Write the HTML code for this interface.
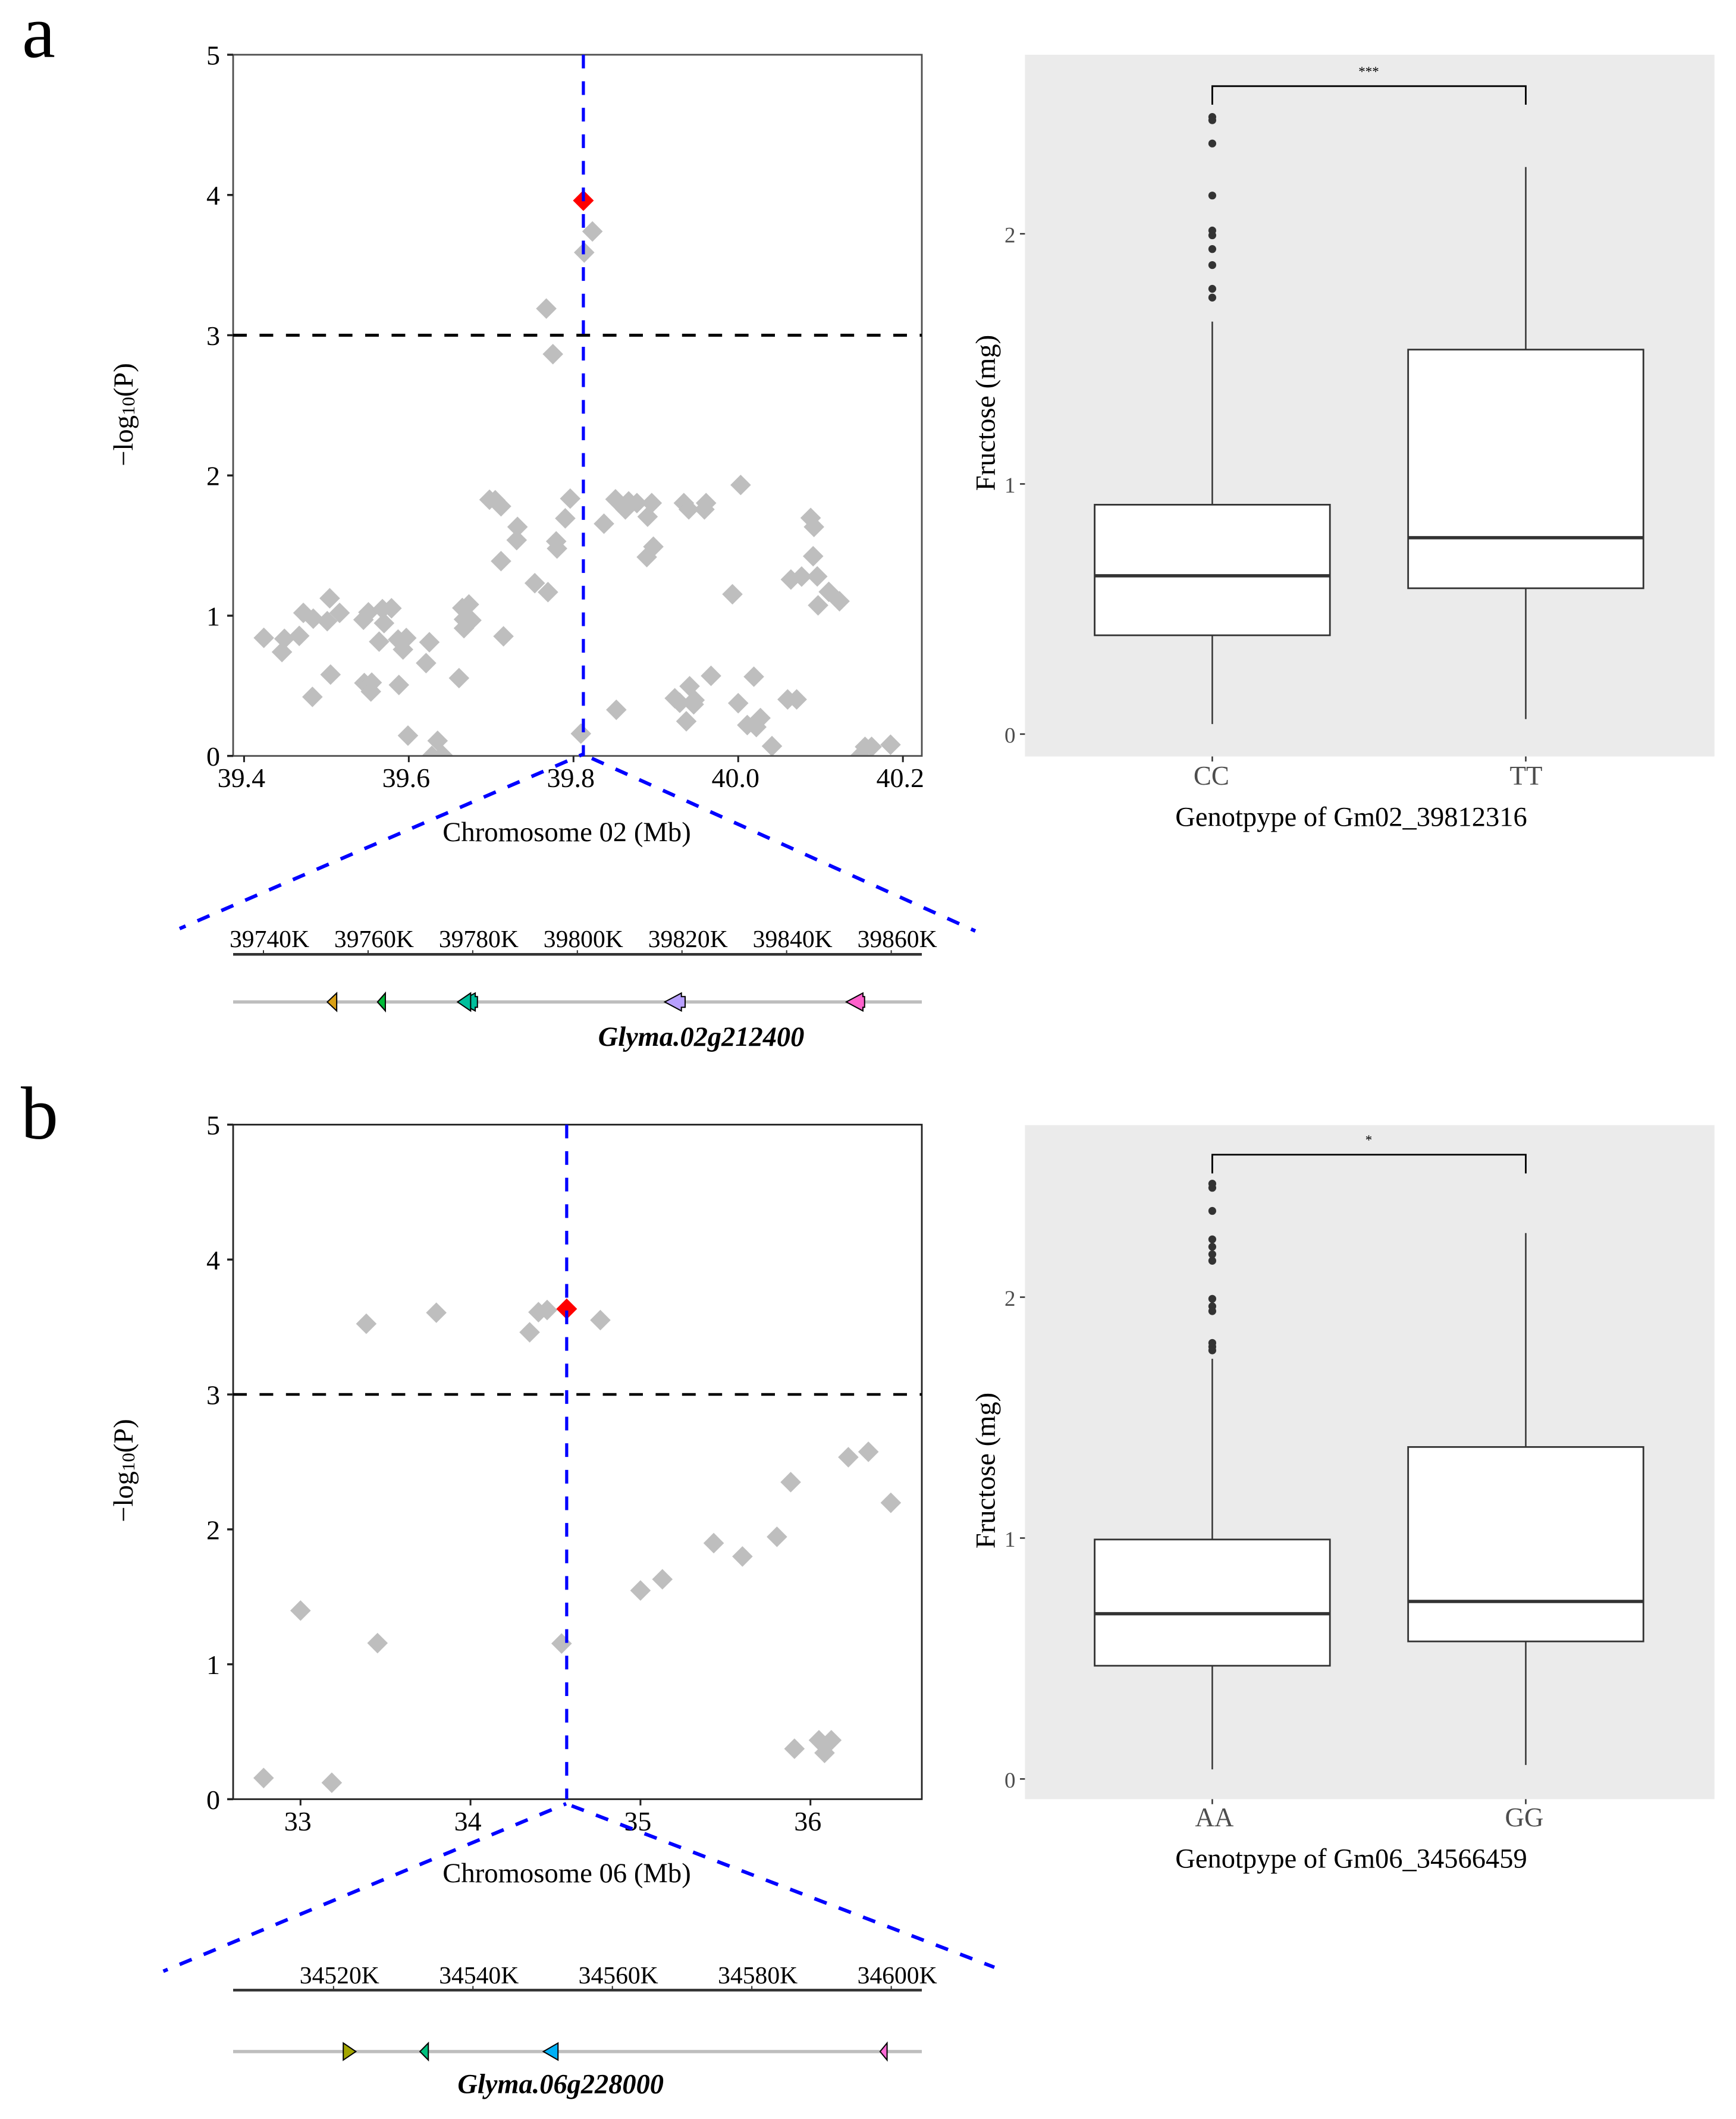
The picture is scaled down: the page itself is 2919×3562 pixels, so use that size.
<!DOCTYPE html>
<html lang="en">
<head>
<meta charset="utf-8">
<title>GWAS regional association and genotype boxplots</title>
<style>
html,body{margin:0;padding:0;background:#fff;}
svg{display:block;font-family:"Liberation Serif","Times New Roman",serif;}
</style>
</head>
<body>
<svg xmlns="http://www.w3.org/2000/svg" width="2919" height="3562" viewBox="0 0 2919 3562">
  <rect x="0" y="0" width="2919" height="3562" fill="#fff"/>
  <defs>
    <clipPath id="clip-a"><rect x="392" y="92" width="1158" height="1178.7"/></clipPath>
    <clipPath id="clip-b"><rect x="392" y="1890.5" width="1158" height="1134"/></clipPath>
  </defs>

  <text x="37" y="96" font-size="126" fill="#000">a</text>
  <text x="35" y="1914" font-size="126" fill="#000">b</text>

  <g id="manhattan-a"></g>
  <g id="manhattan-b"></g>
  <g id="genes-a"></g>
  <g id="genes-b"></g>
  <g id="box-a"></g>
  <g id="box-b"></g>

  <!-- zoom connectors, drawn from the outer end toward the apex -->
  <line x1="302" y1="1561" x2="980" y2="1268" stroke="#0000ff" stroke-width="6" stroke-dasharray="22 21.7" stroke-dashoffset="11"/>
  <line x1="1640" y1="1565" x2="980" y2="1268" stroke="#0000ff" stroke-width="6" stroke-dasharray="22 21.7" stroke-dashoffset="14"/>
  <line x1="274.6" y1="3313.6" x2="952" y2="3032" stroke="#0000ff" stroke-width="6" stroke-dasharray="22 21.7" stroke-dashoffset="14"/>
  <line x1="1672" y1="3307" x2="952" y2="3032" stroke="#0000ff" stroke-width="6" stroke-dasharray="22 21.7" stroke-dashoffset="4"/>

  <!-- axis titles -->
  <text x="953" y="1414" font-size="46.7" text-anchor="middle">Chromosome 02 (Mb)</text>
  <text x="953" y="3164" font-size="46.7" text-anchor="middle">Chromosome 06 (Mb)</text>
  <text transform="translate(223 697) rotate(-90)" font-size="46.5" text-anchor="middle">−log<tspan font-size="31" dy="3">10</tspan><tspan dy="-3">(P)</tspan></text>
  <text transform="translate(223 2472) rotate(-90)" font-size="46.5" text-anchor="middle">−log<tspan font-size="31" dy="3">10</tspan><tspan dy="-3">(P)</tspan></text>
  <text x="1005.7" y="1758" font-size="46.4" font-weight="bold" font-style="italic">Glyma.02g212400</text>
  <text x="769.4" y="3518.6" font-size="46.4" font-weight="bold" font-style="italic">Glyma.06g228000</text>
  <text transform="translate(1672.7 694) rotate(-90)" font-size="46.5" text-anchor="middle">Fructose (mg)</text>
  <text transform="translate(1672.7 2472) rotate(-90)" font-size="46.5" text-anchor="middle">Fructose (mg)</text>
  <text x="2272" y="1388.5" font-size="46.5" text-anchor="middle">Genotpype of Gm02_39812316</text>
  <text x="2272" y="3139.5" font-size="46.5" text-anchor="middle">Genotpype of Gm06_34566459</text>
</svg>

<script>
/* ---------- Panel a, Manhattan data ---------- */
const chr02PositionsMb = [39.424,39.449,39.467,39.446,39.472,39.484,39.501,39.516,39.504,39.551,39.545,39.568,39.579,39.570,39.564,39.587,39.597,39.593,39.625,39.621,39.665,39.673,39.667,39.676,39.667,39.715,39.661,39.505,39.483,39.546,39.555,39.554,39.588,39.599,39.635,39.628,39.641,39.698,39.705,39.712,39.732,39.731,39.712,39.753,39.769,39.779,39.780,39.790,39.796,39.809,39.823,39.813,39.767,39.775,39.851,39.863,39.867,39.877,39.895,39.890,39.837,39.897,39.889,39.934,39.940,39.961,39.959,40.003,40.088,40.092,40.091,40.064,40.077,40.096,40.110,40.123,40.097,39.993,39.967,39.941,39.923,39.929,39.947,39.946,39.937,40.019,40.000,40.060,40.071,40.027,40.011,40.022,40.041,39.852,40.154,40.162,40.185,40.148];
const chr02LogP = [0.842,0.835,0.856,0.741,1.020,0.979,0.961,1.020,1.124,1.024,0.971,1.047,1.053,0.947,0.815,0.830,0.841,0.759,0.811,0.662,1.055,1.080,0.974,0.967,0.911,0.853,0.555,0.580,0.421,0.520,0.523,0.459,0.506,0.145,0.108,0.0,0.005,1.827,1.823,1.780,1.633,1.539,1.389,1.232,1.168,1.530,1.479,1.694,1.835,0.159,3.74,3.59,3.19,2.865,1.830,1.758,1.815,1.803,1.803,1.706,1.656,1.492,1.418,1.803,1.758,1.803,1.758,1.932,1.697,1.633,1.424,1.258,1.279,1.280,1.170,1.103,1.074,1.153,0.571,0.497,0.411,0.379,0.398,0.368,0.247,0.565,0.376,0.403,0.403,0.270,0.220,0.206,0.070,0.329,0.065,0.065,0.080,0.0];
const chr02LeadPosition = 39.812;
const chr02LeadLogP = 3.96;
const chr02XTicks = [39.4,39.6,39.8,40.0,40.2];
const chr02XTickLabels = ["39.4","39.6","39.8","40.0","40.2"];

/* ---------- Panel b, Manhattan data ---------- */
const chr06PositionsMb = [32.783,33.0,33.184,33.387,33.453,33.799,34.348,34.400,34.451,34.536,34.764,35.0,35.129,35.431,35.600,35.803,35.884,35.906,36.050,36.123,36.083,36.223,36.341,36.473];
const chr06LogP = [0.157,1.398,0.122,3.524,1.157,3.606,3.461,3.610,3.626,1.154,3.551,1.547,1.630,1.898,1.799,1.945,2.350,0.374,0.437,0.437,0.343,2.535,2.575,2.197];
const chr06LeadPosition = 34.566;
const chr06LeadLogP = 3.634;
const chr06XTicks = [33,34,35,36];
const chr06XTickLabels = ["33","34","35","36"];

const logPTicks = [0,1,2,3,4,5];
const logPTickLabels = ["0","1","2","3","4","5"];
const logPThreshold = 3;

/* ---------- Gene tracks ---------- */
const chr02KbTicks = [39740,39760,39780,39800,39820,39840,39860];
const chr02KbTickLabels = ["39740K","39760K","39780K","39800K","39820K","39840K","39860K"];
const chr02GeneTipKb = [39752.2,39761.8,39777.3,39777.1,39816.7,39851.4];
const chr02GeneBackKb = [39754.0,39763.3,39780.9,39779.6,39820.6,39854.9];
const chr02GeneColors = ["#daa015","#00ba38","#00bf9c","#00bf9c","#b79fff","#ff61cc"];

const chr06KbTicks = [34520,34540,34560,34580,34600];
const chr06KbTickLabels = ["34520K","34540K","34560K","34580K","34600K"];
const chr06GeneTipKb = [34523.2,34532.4,34550.1,34598.4];
const chr06GeneBackKb = [34521.4,34533.6,34552.2,34599.4];
const chr06GeneColors = ["#a3a500","#00bf7d","#00b0f6","#ff6ad5"];

/* ---------- Boxplots ---------- */
const gm02Genotypes = ["CC","TT"];
const gm02Q1 = [0.395,0.583];
const gm02Median = [0.633,0.785];
const gm02Q3 = [0.917,1.537];
const gm02WhiskerLow = [0.04,0.06];
const gm02WhiskerHigh = [1.649,2.267];
const gm02OutliersCC = [2.467,2.454,2.361,2.153,2.013,1.994,1.939,1.875,1.780,1.745];
const gm02Significance = "***";

const gm06Genotypes = ["AA","GG"];
const gm06Q1 = [0.470,0.571];
const gm06Median = [0.686,0.737];
const gm06Q3 = [0.994,1.378];
const gm06WhiskerLow = [0.04,0.058];
const gm06WhiskerHigh = [1.744,2.266];
const gm06OutliersAA = [2.471,2.454,2.358,2.240,2.209,2.178,2.151,1.993,1.962,1.942,1.810,1.794,1.779];
const gm06Significance = "*";

const fructoseTicks = [0,1,2];
const fructoseTickLabels = ["0","1","2"];

/* ---------- Helpers ---------- */
const NS = "http://www.w3.org/2000/svg";
function mk(parent, tag, attrs, txt) {
  const el = document.createElementNS(NS, tag);
  for (const k in attrs) el.setAttribute(k, attrs[k]);
  if (txt !== undefined) el.textContent = txt;
  parent.appendChild(el);
  return el;
}
function linear(d0, r0, d1, r1) {
  return function (v) { return r0 + (v - d0) * (r1 - r0) / (d1 - d0); };
}
function diamond(cx, cy, r) {
  return [cx, cy - r, cx + r, cy, cx, cy + r, cx - r, cy].join(",");
}

function drawManhattan(g, o) {
  const x = o.xScale, y = o.yScale;
  const clip = mk(g, "g", {"clip-path": "url(#" + o.clip + ")"});
  
  
  o.positions.forEach(function (p, i) {
    const pt = mk(clip, "polygon", {points: diamond(x(p), y(o.logP[i]), 17.3), fill: "#bebebe"});
    
    
  });
  const lead = mk(g, "polygon", {points: diamond(x(o.leadPos), y(o.leadLogP), 17.5), fill: "#ff0000"});
  
  

  const frame = mk(g, "rect", {x: o.left, y: o.top, width: o.right - o.left, height: o.bottom - o.top, fill: "none", stroke: o.frame, "stroke-width": 2.8});
  
  

  const thr = mk(g, "line", {x1: o.left, x2: o.right, y1: y(logPThreshold), y2: y(logPThreshold), stroke: "#000", "stroke-width": o.thrWidth, "stroke-dasharray": "23 21.4"});
  
  

  const v = mk(g, "line", {x1: x(o.leadPos), x2: x(o.leadPos), y1: o.top, y2: o.bottom, stroke: "#0000ff", "stroke-width": 5.2, "stroke-dasharray": "23 21.64"});
  
  

  logPTicks.forEach(function (t, i) {
    const tick = mk(g, "line", {x1: o.left - 10, x2: o.left, y1: y(t), y2: y(t), stroke: "#222", "stroke-width": 3.5});
    
    
    const lab = mk(g, "text", {x: o.left - 22, y: y(t) + 16.5, "font-size": 46, "text-anchor": "end"}, logPTickLabels[i]);
    
    
  });
  o.xTicks.forEach(function (t, i) {
    const tick = mk(g, "line", {x1: x(t), x2: x(t), y1: o.bottom, y2: o.bottom + 10.5, stroke: "#222", "stroke-width": 3});
    
    
    const lab = mk(g, "text", {x: x(t) - 4.5, y: o.bottom + 52.5, "font-size": 46, "text-anchor": "middle"}, o.xLabels[i]);
    
    
  });
}

function drawGenes(g, o) {
  const x = o.xScale;
  const axis = mk(g, "line", {x1: 392, x2: 1550, y1: o.axisY, y2: o.axisY, stroke: "#333", "stroke-width": 4.5});
  
  
  o.ticks.forEach(function (t, i) {
    const tick = mk(g, "line", {x1: x(t), x2: x(t), y1: o.axisY - 7, y2: o.axisY, stroke: "#333", "stroke-width": 2});
    
    
    const lab = mk(g, "text", {x: x(t) + 10, y: o.labelY, "font-size": 41.6, "text-anchor": "middle"}, o.labels[i]);
    
    
  });
  const track = mk(g, "line", {x1: 392, x2: 1550, y1: o.trackY, y2: o.trackY, stroke: "#bebebe", "stroke-width": 5.5});
  
  
  o.tips.forEach(function (tipKb, i) {
    const tip = x(tipKb), back = x(o.backs[i]);
    const dir = back > tip ? 1 : -1;
    const len = Math.abs(back - tip), head = 28, H = o.halfH, h = 9;
    let pts;
    if (len <= head + 1) {
      pts = [tip, o.trackY, back, o.trackY - H, back, o.trackY + H];
    } else {
      const s = tip + dir * head;
      pts = [tip, o.trackY, s, o.trackY - H, s, o.trackY - h, back, o.trackY - h, back, o.trackY + h, s, o.trackY + h, s, o.trackY + H];
    }
    const arrow = mk(g, "polygon", {points: pts.join(","), fill: o.colors[i], stroke: "#000", "stroke-width": 2, "stroke-linejoin": "miter"});
    
    
  });
}

function drawBox(g, o) {
  const y = o.yScale;
  const panel = mk(g, "rect", {x: 1723.4, y: o.top, width: 1159.4, height: o.bottom - o.top, fill: "#ebebeb"});
  
  

  fructoseTicks.forEach(function (t, i) {
    const tick = mk(g, "line", {x1: 1715, x2: 1723.4, y1: y(t), y2: y(t), stroke: "#333", "stroke-width": 2.5});
    
    
    const lab = mk(g, "text", {x: 1707.5, y: y(t) + 14.5, "font-size": 37, fill: "#4d4d4d", "text-anchor": "end"}, fructoseTickLabels[i]);
    
    
  });

  o.centers.forEach(function (cx, i) {
    const whisker = mk(g, "line", {x1: cx, x2: cx, y1: y(o.hi[i]), y2: y(o.lo[i]), stroke: "#333", "stroke-width": 2.5});
    
    
    const box = mk(g, "rect", {x: cx - 197.8, y: y(o.q3[i]), width: 395.6, height: y(o.q1[i]) - y(o.q3[i]), fill: "#fff", stroke: "#333", "stroke-width": 2.8});
    
    
    const med = mk(g, "line", {x1: cx - 197.8, x2: cx + 197.8, y1: y(o.med[i]), y2: y(o.med[i]), stroke: "#333", "stroke-width": 5.5});
    
    
    const tick = mk(g, "line", {x1: cx, x2: cx, y1: o.bottom, y2: o.bottom + 8.5, stroke: "#333", "stroke-width": 2.5});
    
    
    const lab = mk(g, "text", {x: cx + o.labelDx[i], y: o.labelY, "font-size": 45, fill: "#4d4d4d", "text-anchor": "middle"}, o.cats[i]);
    
    
  });

  o.outliers.forEach(function (v) {
    const c = mk(g, "circle", {cx: o.centers[0], cy: y(v), r: 6.6, fill: "#333"});
    
    
  });

  const br = mk(g, "polyline", {points: [o.centers[0], o.brDown, o.centers[0], o.brY, o.centers[1], o.brY, o.centers[1], o.brDown].join(","), fill: "none", stroke: "#000", "stroke-width": 2.8});
  
  
  const star = mk(g, "text", {x: 2301.5, y: o.starY, "font-size": 23, "text-anchor": "middle"}, o.sig);
  
  
}

/* ---------- Render ---------- */
drawManhattan(document.getElementById("manhattan-a"), {
  xScale: linear(39.4, 410.4, 40.2, 1518.2),
  yScale: linear(0, 1270.7, 5, 92),
  left: 392, right: 1550, top: 92, bottom: 1270.7,
  clip: "clip-a", frame: "#4d4d4d", thrWidth: 5,
  positions: chr02PositionsMb, logP: chr02LogP,
  leadPos: chr02LeadPosition, leadLogP: chr02LeadLogP,
  xTicks: chr02XTicks, xLabels: chr02XTickLabels
});
drawManhattan(document.getElementById("manhattan-b"), {
  xScale: linear(33, 505.3, 36, 1362.7),
  yScale: linear(0, 3024.4, 5, 1890.5),
  left: 392, right: 1550, top: 1890.5, bottom: 3024.4,
  clip: "clip-b", frame: "#222", thrWidth: 4.5,
  positions: chr06PositionsMb, logP: chr06LogP,
  leadPos: chr06LeadPosition, leadLogP: chr06LeadLogP,
  xTicks: chr06XTicks, xLabels: chr06XTickLabels
});
drawGenes(document.getElementById("genes-a"), {
  xScale: linear(39740, 443, 39860, 1498.6),
  axisY: 1604.3, labelY: 1592, trackY: 1684.3, halfH: 15,
  ticks: chr02KbTicks, labels: chr02KbTickLabels,
  tips: chr02GeneTipKb, backs: chr02GeneBackKb, colors: chr02GeneColors
});
drawGenes(document.getElementById("genes-b"), {
  xScale: linear(34520, 560.8, 34600, 1498.6),
  axisY: 3345.4, labelY: 3334, trackY: 3448.6, halfH: 14.3,
  ticks: chr06KbTicks, labels: chr06KbTickLabels,
  tips: chr06GeneTipKb, backs: chr06GeneBackKb, colors: chr06GeneColors
});
drawBox(document.getElementById("box-a"), {
  yScale: linear(0, 1234, 2, 393),
  top: 92, bottom: 1271.6, centers: [2038.4, 2565.5],
  cats: gm02Genotypes, q1: gm02Q1, med: gm02Median, q3: gm02Q3, lo: gm02WhiskerLow, hi: gm02WhiskerHigh,
  outliers: gm02OutliersCC, sig: gm02Significance,
  brY: 144.8, brDown: 176, starY: 128, labelY: 1319, labelDx: [-1.5, 0.5]
});
drawBox(document.getElementById("box-b"), {
  yScale: linear(0, 2990.4, 2, 2180.5),
  top: 1891.3, bottom: 3024.3, centers: [2038.4, 2565.5],
  cats: gm06Genotypes, q1: gm06Q1, med: gm06Median, q3: gm06Q3, lo: gm06WhiskerLow, hi: gm06WhiskerHigh,
  outliers: gm06OutliersAA, sig: gm06Significance,
  brY: 1941, brDown: 1972.5, starY: 1924, labelY: 3070, labelDx: [3.5, -2.5]
});
</script>
</body>
</html>
